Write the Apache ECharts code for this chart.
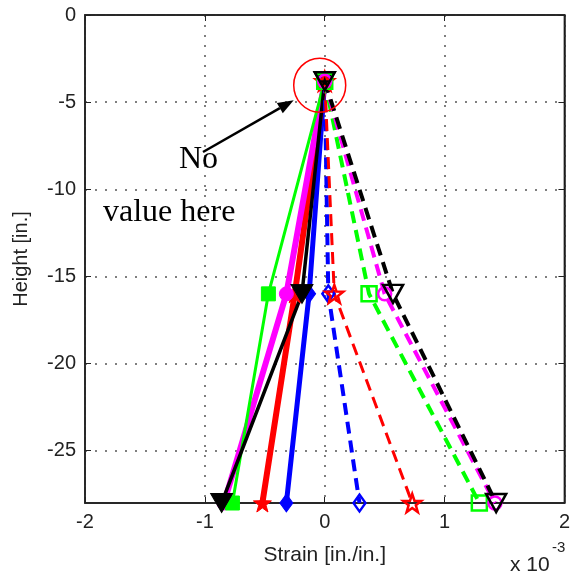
<!DOCTYPE html>
<html>
<head>
<meta charset="utf-8">
<script src="https://cdn.jsdelivr.net/npm/echarts@6/dist/echarts.min.js"></script>
<style>
html,body{margin:0;padding:0;background:#fff;}
#c{width:573px;height:579px;}
</style>
</head>
<body>
<div id="c"></div>
<script>
// Heights of the three gauge levels (in.)
const heights = [-3.8, -16, -28];
// Strain values (x 10^-3) — solid lines (compression side)
const blueSolid    = [0, -0.13, -0.32];
const redSolid     = [0, -0.25, -0.52];
const magentaSolid = [0, -0.32, -0.84];
const greenSolid   = [0, -0.47, -0.77];
const blackSolid   = [0, -0.19, -0.86];
// Strain values (x 10^-3) — dashed lines (tension side)
const blueDashed    = [0, 0.03, 0.29];
const redDashed     = [0, 0.08, 0.73];
const greenDashed   = [0, 0.37, 1.29];
const magentaDashed = [0, 0.50, 1.42];
const blackDashed   = [0, 0.57, 1.43];

const xTicks = [-2, -1, 0, 1, 2];
const yTicks = [-25, -20, -15, -10, -5, 0];

const STAR = 'path://M0,-10 L2.35,-3.24 L9.51,-3.09 L3.8,1.24 L5.88,8.09 L0,4 L-5.88,8.09 L-3.8,1.24 L-9.51,-3.09 L-2.35,-3.24 Z';

function pts(xs){ return xs.map((x,i)=>[x, heights[i]]); }

function mk(name, xs, color, dashed, symbol, size, width, rotate){
  return {
    name: name,
    type: 'line',
    data: pts(xs),
    clip: false,
    symbol: symbol,
    symbolSize: size,
    symbolRotate: rotate || 0,
    showAllSymbol: true,
    lineStyle: {color: color, width: width, type: dashed ? [12, 7] : 'solid'},
    itemStyle: dashed
      ? {color: 'rgba(0,0,0,0)', borderColor: color, borderWidth: 2.5}
      : {color: color, borderColor: color, borderWidth: 1},
    emphasis: {disabled: true},
    animation: false
  };
}

const series = [
  mk('bs', blueSolid, '#0000ff', false, 'diamond', [13, 18], 5),
  mk('rs', redSolid, '#ff0000', false, STAR, 18, 6),
  mk('ms', magentaSolid, '#ff00ff', false, 'circle', 14, 6),
  mk('gs', greenSolid, '#00ff00', false, 'rect', 14, 3),
  mk('ks', blackSolid, '#000000', false, 'triangle', [22, 19], 3.5, 180),
  mk('bd', blueDashed, '#0000ff', true, 'diamond', [12, 17], 4),
  mk('rd', redDashed, '#ff0000', true, STAR, 18, 3),
  mk('gd', greenDashed, '#00ff00', true, 'rect', 15, 4),
  mk('md', magentaDashed, '#ff00ff', true, 'circle', 13, 4),
  mk('kd', blackDashed, '#000000', true, 'triangle', [20, 18], 4, 180)
];

const chart = echarts.init(document.getElementById('c'), null, {renderer: 'canvas'});
const fontFam = '"Liberation Sans", Arial, sans-serif';
const gridLine = {show: true, lineStyle: {color: '#555', type: [2, 8], width: 1.5}};

chart.setOption({
  backgroundColor: '#fff',
  animation: false,
  grid: {left: 85, right: 6, top: 15, bottom: 76, show: true, borderColor: '#000', borderWidth: 1.5, backgroundColor: 'transparent'},
  xAxis: [{
    type: 'value', min: -2, max: 2, interval: 1,
    name: 'Strain [in./in.]', nameLocation: 'middle', nameGap: 42,
    nameTextStyle: {fontFamily: fontFam, fontSize: 21, color: '#222'},
    axisLine: {show: true, onZero: false, lineStyle: {color: '#222', width: 1.5}},
    axisTick: {show: true, inside: true, length: 6, lineStyle: {color: '#222'}},
    axisLabel: {fontFamily: fontFam, fontSize: 20, color: '#222', margin: 9,
      customValues: xTicks, formatter: v => String(v)},
    splitLine: gridLine
  }, {
    type: 'value', min: -2, max: 2, interval: 1, position: 'top',
    axisLine: {show: true, onZero: false, lineStyle: {color: '#222', width: 1.5}},
    axisTick: {show: true, inside: true, length: 6, lineStyle: {color: '#222'}},
    axisLabel: {show: false}, splitLine: {show: false}
  }],
  yAxis: [{
    type: 'value', min: -28, max: 0,
    name: 'Height [in.]', nameLocation: 'middle', nameGap: 54, nameRotate: 90,
    nameTextStyle: {fontFamily: fontFam, fontSize: 20, color: '#222'},
    axisLine: {show: true, onZero: false, lineStyle: {color: '#222', width: 1.5}},
    axisTick: {show: true, inside: true, length: 6, customValues: yTicks, lineStyle: {color: '#222'}},
    axisLabel: {fontFamily: fontFam, fontSize: 20, color: '#222', margin: 9,
      customValues: yTicks, formatter: v => String(v)},
    splitLine: gridLine
  }, {
    type: 'value', min: -28, max: 0, position: 'right',
    axisLine: {show: true, onZero: false, lineStyle: {color: '#222', width: 1.5}},
    axisTick: {show: true, inside: true, length: 6, customValues: yTicks, lineStyle: {color: '#222'}},
    axisLabel: {show: false}, splitLine: {show: false}
  }],
  series: series
});

// Annotation anchored at the shared top point
const topPt = chart.convertToPixel({xAxisIndex: 0, yAxisIndex: 0}, [0, heights[0]]);
const cx = topPt[0] - 5, cy = topPt[1] + 4;
const ax0 = [203, 152], ax1 = [cx - 26, cy + 15];
const ang = Math.atan2(ax1[1] - ax0[1], ax1[0] - ax0[0]);
const hl = 16, hw = 6;
const base = [ax1[0] - hl * Math.cos(ang), ax1[1] - hl * Math.sin(ang)];
const head = [
  ax1,
  [base[0] + hw * Math.sin(ang), base[1] - hw * Math.cos(ang)],
  [base[0] - hw * Math.sin(ang), base[1] + hw * Math.cos(ang)]
];

chart.setOption({
  graphic: [
    {type: 'ellipse', shape: {cx: cx, cy: cy, rx: 26, ry: 27}, style: {fill: 'none', stroke: '#ff0000', lineWidth: 1.5}, z: 100},
    {type: 'line', shape: {x1: ax0[0], y1: ax0[1], x2: base[0], y2: base[1]}, style: {stroke: '#000', lineWidth: 2.5}, z: 100},
    {type: 'polygon', shape: {points: head}, style: {fill: '#000'}, z: 100},
    {type: 'text', left: 179, top: 144, style: {text: 'No', font: '32px "Liberation Serif", "Times New Roman", serif', fill: '#000'}, z: 100},
    {type: 'text', left: 103, top: 197, style: {text: 'value here', font: '32px "Liberation Serif", "Times New Roman", serif', fill: '#000'}, z: 100},
    {type: 'text', left: 510, top: 555, style: {text: 'x 10', font: '21px "Liberation Sans", Arial, sans-serif', fill: '#222'}, z: 100},
    {type: 'text', left: 552, top: 540, style: {text: '-3', font: '15px "Liberation Sans", Arial, sans-serif', fill: '#222'}, z: 100}
  ]
});
</script>
</body>
</html>
